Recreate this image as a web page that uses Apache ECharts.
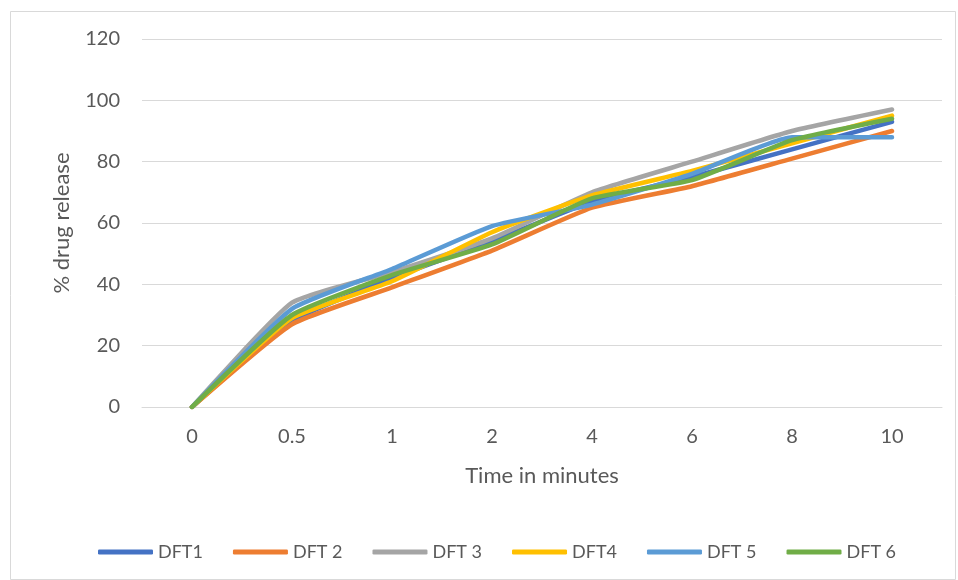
<!DOCTYPE html>
<html>
<head>
<meta charset="utf-8">
<script src="https://cdn.jsdelivr.net/npm/echarts@6/dist/echarts.min.js"></script>
<style>
  html, body { margin: 0; padding: 0; background: #fff; }
  #chart { width: 958px; height: 580px; }
</style>
</head>
<body>
<div id="chart"></div>
<script>
// Sampling times (minutes) on the category axis
const times = ['0', '0.5', '1', '2', '4', '6', '8', '10'];

// Cumulative % drug release for each formulation
const dft1 = [0, 28, 42, 54, 67, 75, 84, 93];
const dft2 = [0, 27, 39, 51, 65, 72, 81, 90];
const dft3 = [0, 34, 44, 55, 70, 80, 90, 97];
const dft4 = [0, 29, 41, 57, 69, 77, 86, 95];
const dft5 = [0, 32, 45, 59, 66, 76, 88, 88];
const dft6 = [0, 30, 43, 53, 68, 74, 87, 94];

const seriesNames = ['DFT1', 'DFT 2', 'DFT 3', 'DFT4', 'DFT 5', 'DFT 6'];
const seriesData = [dft1, dft2, dft3, dft4, dft5, dft6];
const palette = ['#4472C4', '#ED7D31', '#A5A5A5', '#FFC000', '#5B9BD5', '#70AD47'];

const yTicks = { min: 0, max: 120, interval: 20 };

const FONT = 'Lato, "Open Sans", sans-serif';
const TEXT = '#595959';

const chart = echarts.init(document.getElementById('chart'), null, { renderer: 'canvas' });

chart.setOption({
  animation: false,
  backgroundColor: '#ffffff',
  color: palette,
  graphic: [{
    type: 'rect',
    left: 8, top: 9,
    shape: { width: 945, height: 568 },
    style: { fill: 'none', stroke: '#d9d9d9', lineWidth: 1 },
    silent: true
  }],
  grid: { left: 142, right: 16, top: 39, bottom: 173 },
  legend: {
    left: 93,
    top: 538,
    itemWidth: 55,
    itemHeight: 5,
    itemGap: 30,
    icon: 'roundRect',
    textStyle: { fontFamily: FONT, fontSize: 18, color: TEXT },
    data: seriesNames
  },
  xAxis: {
    type: 'category',
    data: times,
    boundaryGap: true,
    name: 'Time in minutes',
    nameLocation: 'middle',
    nameGap: 58,
    nameTextStyle: { fontFamily: FONT, fontSize: 22, color: TEXT },
    axisLine: { show: true, lineStyle: { color: '#d9d9d9', width: 1 } },
    axisTick: { show: false },
    axisLabel: { fontFamily: FONT, fontSize: 20, color: TEXT, margin: 20 }
  },
  yAxis: {
    type: 'value',
    min: yTicks.min,
    max: yTicks.max,
    interval: yTicks.interval,
    name: '% drug release',
    nameLocation: 'middle',
    nameGap: 69,
    nameRotate: 90,
    nameTextStyle: { fontFamily: FONT, fontSize: 22, color: TEXT },
    axisLine: { show: false },
    axisTick: { show: false },
    axisLabel: { fontFamily: FONT, fontSize: 20, color: TEXT, margin: 22 },
    splitLine: { lineStyle: { color: '#d9d9d9', width: 1 } }
  },
  series: seriesNames.map((name, i) => ({
    name: name,
    type: 'line',
    data: seriesData[i],
    smooth: 0.15,
    showSymbol: false,
    symbol: 'none',
    lineStyle: { width: 4.5, cap: 'round', join: 'round', color: palette[i] },
    itemStyle: { color: palette[i] }
  }))
});
</script>
</body>
</html>
